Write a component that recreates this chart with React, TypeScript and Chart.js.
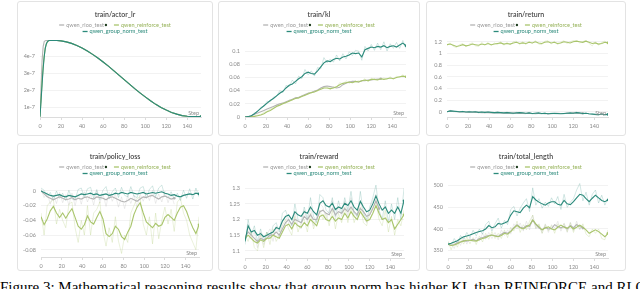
import React, { useEffect, useRef } from 'react';
import { Chart, registerables } from 'chart.js';
Chart.register(...registerables);

// ---------------- data ----------------
const STEPS = [0, 3, 6, 9, 12, 15, 18, 21, 24, 27, 30, 33, 36, 39, 42, 45, 48, 51, 54, 57, 60, 63, 66, 69, 72, 75, 78, 81, 84, 87, 90, 93, 96, 99, 102, 105, 108, 111, 114, 117, 120, 123, 126, 129, 132, 135, 138, 141, 144, 147, 150, 153];
const X_TICKS = [0, 20, 40, 60, 80, 100, 120, 140];

const LR_STEPS = [0, 1, 2, 3, 4, 5, 6, 7, 8, 9, 10, 12, 16, 20, 25, 30, 35, 40, 45, 50, 55, 60, 65, 70, 75, 80, 85, 90, 95, 100, 105, 110, 115, 120, 125, 130, 135, 140, 145, 150, 153];
const LR_GROUP = [0.45, 1.4, 2.4, 3.3, 4.0, 4.5, 4.75, 4.88, 4.94, 4.96, 4.97, 4.97, 4.96, 4.94, 4.88, 4.79, 4.67, 4.52, 4.34, 4.14, 3.92, 3.69, 3.44, 3.18, 2.91, 2.64, 2.38, 2.11, 1.86, 1.62, 1.39, 1.18, 0.99, 0.84, 0.70, 0.60, 0.51, 0.47, 0.45, 0.45, 0.45];
const LR_REINFORCE = [0.45, 1.5, 2.5, 3.4, 4.05, 4.52, 4.76, 4.88, 4.94, 4.96, 4.97, 4.97, 4.96, 4.94, 4.88, 4.79, 4.67, 4.52, 4.34, 4.14, 3.92, 3.69, 3.44, 3.18, 2.91, 2.64, 2.38, 2.11, 1.86, 1.62, 1.39, 1.18, 0.99, 0.84, 0.70, 0.60, 0.51, 0.47, 0.45, 0.45, 0.45];
const LR_RLOO = [0.45, 2.2, 3.8, 4.6, 4.9, 4.95, 4.96, 4.97, 4.97, 4.97, 4.97, 4.97, 4.96, 4.94, 4.88, 4.79, 4.67, 4.52, 4.34, 4.14, 3.92, 3.69, 3.44, 3.18, 2.91, 2.64, 2.38, 2.11, 1.86, 1.62, 1.39, 1.18, 0.99, 0.84, 0.70, 0.60, 0.51, 0.47, 0.45, 0.45, 0.45];
const LR_Y_TICKS = [1, 2, 3, 4];
const LR_Y_LABELS = ['1e-7', '2e-7', '3e-7', '4e-7'];

const KL_GROUP = [0, 0.0005, 0.002, 0.005, 0.009, 0.013, 0.017, 0.021, 0.025, 0.028, 0.032, 0.036, 0.039, 0.044, 0.048, 0.05, 0.054, 0.058, 0.061, 0.066, 0.068, 0.066, 0.065, 0.07, 0.076, 0.082, 0.085, 0.084, 0.087, 0.089, 0.088, 0.091, 0.092, 0.094, 0.097, 0.096, 0.097, 0.091, 0.102, 0.104, 0.106, 0.105, 0.107, 0.106, 0.108, 0.105, 0.107, 0.108, 0.106, 0.109, 0.112, 0.108];
const KL_GROUP_RAW = [0, 0.001, 0.002, 0.006, 0.008, 0.015, 0.016, 0.024, 0.023, 0.03, 0.031, 0.04, 0.037, 0.048, 0.046, 0.056, 0.05, 0.062, 0.058, 0.072, 0.064, 0.07, 0.062, 0.075, 0.073, 0.09, 0.082, 0.088, 0.083, 0.094, 0.085, 0.096, 0.088, 0.099, 0.093, 0.101, 0.1, 0.086, 0.107, 0.1, 0.11, 0.101, 0.112, 0.102, 0.114, 0.1, 0.111, 0.104, 0.113, 0.104, 0.116, 0.104];
const KL_REINFORCE = [0, 0, 0.0005, 0.001, 0.002, 0.003, 0.005, 0.008, 0.01, 0.013, 0.016, 0.018, 0.02, 0.022, 0.024, 0.026, 0.028, 0.029, 0.031, 0.033, 0.035, 0.037, 0.038, 0.04, 0.042, 0.044, 0.044, 0.043, 0.044, 0.046, 0.049, 0.051, 0.052, 0.053, 0.052, 0.054, 0.053, 0.055, 0.056, 0.055, 0.057, 0.057, 0.056, 0.058, 0.057, 0.058, 0.059, 0.058, 0.06, 0.061, 0.062, 0.061];
const KL_REINFORCE_RAW = [0, 0.0005, 0.001, 0.002, 0.003, 0.004, 0.007, 0.009, 0.012, 0.014, 0.018, 0.017, 0.022, 0.021, 0.026, 0.025, 0.03, 0.028, 0.033, 0.032, 0.037, 0.036, 0.04, 0.039, 0.044, 0.045, 0.046, 0.041, 0.046, 0.045, 0.052, 0.05, 0.055, 0.051, 0.054, 0.053, 0.055, 0.054, 0.058, 0.053, 0.059, 0.056, 0.058, 0.057, 0.059, 0.057, 0.061, 0.057, 0.062, 0.06, 0.064, 0.06];
const KL_RLOO = [0, 0.0005, 0.002, 0.004, 0.006, 0.008, 0.01, 0.012, 0.014, 0.016, 0.018, 0.02, 0.021, 0.023, 0.025, 0.027, 0.029, 0.03, 0.032, 0.034, 0.036, 0.037, 0.039, 0.041, 0.044, 0.046, 0.047, 0.046, 0.045, 0.044, 0.045, 0.049, 0.051, 0.053, 0.054, 0.054, 0.053, 0.055, 0.055, 0.056, 0.056, 0.057, 0.057, 0.058];
const KL_Y_TICKS = [0, 0.02, 0.04, 0.06, 0.08, 0.1];
const KL_Y_LABELS = ['0', '0.02', '0.04', '0.06', '0.08', '0.1'];

const RETURN_REINFORCE = [1.15, 1.16, 1.14, 1.12, 1.13, 1.15, 1.13, 1.14, 1.16, 1.15, 1.14, 1.16, 1.15, 1.17, 1.15, 1.16, 1.17, 1.18, 1.16, 1.17, 1.16, 1.18, 1.19, 1.17, 1.18, 1.17, 1.19, 1.18, 1.2, 1.18, 1.17, 1.19, 1.2, 1.18, 1.19, 1.17, 1.18, 1.2, 1.19, 1.18, 1.2, 1.21, 1.2, 1.19, 1.21, 1.19, 1.17, 1.18, 1.16, 1.17, 1.19, 1.18];
const RETURN_REINFORCE_RAW = [1.14, 1.18, 1.12, 1.1, 1.15, 1.17, 1.11, 1.16, 1.18, 1.13, 1.12, 1.19, 1.14, 1.19, 1.13, 1.18, 1.15, 1.2, 1.14, 1.19, 1.15, 1.2, 1.21, 1.15, 1.2, 1.15, 1.21, 1.17, 1.22, 1.16, 1.15, 1.21, 1.22, 1.16, 1.21, 1.15, 1.19, 1.22, 1.17, 1.2, 1.22, 1.23, 1.18, 1.2, 1.23, 1.17, 1.13, 1.2, 1.14, 1.19, 1.21, 1.17];
const RETURN_GROUP = [0.0, 0.015, 0.01, 0.005, 0.0, 0.005, -0.005, 0.0, -0.005, 0.0, -0.01, -0.005, -0.01, -0.005, -0.01, -0.015, -0.01, -0.015, -0.02, -0.015, -0.02, -0.025, -0.02, -0.015, -0.02, -0.025, -0.02, -0.03, -0.025, -0.02, -0.03, -0.025, -0.035, -0.03, -0.025, -0.03, -0.035, -0.03, -0.025, -0.02, -0.025, -0.015, -0.02, -0.03, -0.025, -0.035, -0.04, -0.045, -0.05, -0.04, -0.05, -0.045];
const RETURN_GROUP_RAW = [0.0, 0.025, 0.0, 0.015, -0.01, 0.01, -0.015, 0.01, -0.01, 0.005, -0.02, 0.0, -0.02, 0.005, -0.015, -0.025, 0.0, -0.02, -0.03, -0.005, -0.03, -0.035, -0.01, -0.02, -0.03, -0.035, -0.01, -0.04, -0.02, -0.03, -0.04, -0.015, -0.045, -0.02, -0.035, -0.04, -0.03, -0.04, -0.015, -0.03, -0.02, -0.005, -0.03, -0.04, -0.015, -0.045, -0.035, -0.055, -0.06, -0.03, -0.06, -0.04];
const RETURN_RLOO = [0.0, 0.01, 0.005, 0.0, -0.005, 0.0, -0.005, -0.01, -0.005, -0.01, -0.01, -0.015, -0.01, -0.015, -0.02, -0.015, -0.02, -0.02, -0.025, -0.02, -0.025, -0.02, -0.025, -0.03, -0.025, -0.03, -0.025, -0.03, -0.035, -0.03, -0.03, -0.035, -0.03, -0.035, -0.03, -0.025, -0.03, -0.03, -0.025, -0.03, -0.02, -0.025, -0.03, -0.025];
const RETURN_Y_TICKS = [0, 0.2, 0.4, 0.6, 0.8, 1, 1.2];
const RETURN_Y_LABELS = ['0', '0.2', '0.4', '0.6', '0.8', '1', '1.2'];

const POLICY_GROUP = [0.0, -0.002, -0.004, -0.006, -0.007, -0.006, -0.005, -0.007, -0.008, -0.006, -0.007, -0.008, -0.006, -0.004, -0.005, -0.004, -0.003, -0.005, -0.004, -0.006, -0.005, -0.004, -0.006, -0.005, -0.003, -0.004, -0.002, -0.003, -0.004, -0.002, -0.003, -0.004, -0.003, -0.002, -0.004, -0.003, -0.002, -0.003, -0.002, -0.001, -0.003, -0.004, -0.006, -0.005, -0.007, -0.008, -0.006, -0.005, -0.004, -0.005, -0.003, -0.004];
const POLICY_GROUP_RAW = [0.004, 0.001, -0.008, -0.002, -0.012, 0.0, -0.01, -0.003, -0.013, 0.001, -0.011, -0.012, 0.002, 0.004, -0.009, 0.003, 0.005, -0.01, 0.002, -0.012, 0.001, 0.006, -0.011, -0.001, 0.004, -0.009, 0.005, -0.006, -0.008, 0.006, -0.007, -0.009, 0.004, 0.006, -0.01, 0.002, 0.007, -0.008, 0.004, 0.008, -0.007, -0.009, -0.001, -0.011, -0.003, -0.013, 0.001, -0.01, 0.003, -0.011, 0.004, -0.008];
const POLICY_RLOO = [0.0, -0.004, -0.008, -0.01, -0.012, -0.01, -0.008, -0.01, -0.012, -0.011, -0.009, -0.012, -0.01, -0.011, -0.009, -0.008, -0.01, -0.011, -0.008, -0.009, -0.01, -0.012, -0.009, -0.008, -0.01, -0.012, -0.014, -0.015, -0.013, -0.01, -0.012, -0.014, -0.011, -0.008, -0.009, -0.007, -0.006, -0.009, -0.011, -0.008, -0.007, -0.009, -0.011, -0.01];
const POLICY_RLOO_RAW = [0.003, -0.009, -0.002, -0.018, -0.006, -0.017, -0.002, -0.016, -0.005, -0.019, -0.003, -0.02, -0.004, -0.018, -0.001, -0.015, -0.004, -0.019, 0.0, -0.016, -0.004, -0.021, -0.002, -0.014, -0.004, -0.022, -0.008, -0.024, -0.006, -0.017, -0.005, -0.023, -0.004, -0.014, -0.002, -0.013, 0.001, -0.017, -0.004, -0.015, 0.0, -0.016, -0.004, -0.018];
const POLICY_REINFORCE = [-0.035, -0.046, -0.038, -0.027, -0.021, -0.03, -0.036, -0.03, -0.037, -0.03, -0.024, -0.036, -0.048, -0.052, -0.046, -0.034, -0.042, -0.045, -0.036, -0.028, -0.038, -0.058, -0.062, -0.058, -0.048, -0.052, -0.062, -0.066, -0.056, -0.048, -0.032, -0.022, -0.016, -0.03, -0.042, -0.046, -0.05, -0.044, -0.048, -0.046, -0.036, -0.032, -0.036, -0.04, -0.03, -0.022, -0.02, -0.028, -0.04, -0.05, -0.058, -0.046];
const POLICY_REINFORCE_RAW = [-0.03, -0.06, -0.02, -0.015, -0.012, -0.045, -0.025, -0.04, -0.05, -0.018, -0.015, -0.05, -0.07, -0.04, -0.06, -0.02, -0.06, -0.03, -0.025, -0.015, -0.055, -0.075, -0.05, -0.07, -0.035, -0.068, -0.085, -0.06, -0.07, -0.03, -0.02, -0.01, -0.008, -0.045, -0.06, -0.035, -0.072, -0.03, -0.065, -0.04, -0.022, -0.045, -0.025, -0.055, -0.015, -0.01, -0.03, -0.04, -0.06, -0.07, -0.08, -0.035];
const POLICY_Y_TICKS = [-0.08, -0.06, -0.04, -0.02, 0];
const POLICY_Y_LABELS = ['-0.08', '-0.06', '-0.04', '-0.02', '0'];

const REWARD_GROUP = [1.13, 1.18, 1.16, 1.165, 1.15, 1.155, 1.145, 1.15, 1.155, 1.16, 1.175, 1.17, 1.195, 1.21, 1.215, 1.2, 1.225, 1.215, 1.21, 1.225, 1.22, 1.24, 1.225, 1.215, 1.252, 1.26, 1.245, 1.24, 1.252, 1.232, 1.24, 1.235, 1.252, 1.245, 1.26, 1.24, 1.23, 1.258, 1.24, 1.225, 1.23, 1.25, 1.275, 1.25, 1.23, 1.24, 1.22, 1.23, 1.22, 1.24, 1.22, 1.26];
const REWARD_GROUP_RAW = [1.12, 1.2, 1.15, 1.18, 1.13, 1.17, 1.13, 1.16, 1.14, 1.18, 1.19, 1.16, 1.22, 1.23, 1.2, 1.18, 1.25, 1.2, 1.19, 1.24, 1.2, 1.27, 1.21, 1.19, 1.28, 1.27, 1.23, 1.22, 1.27, 1.21, 1.26, 1.22, 1.27, 1.23, 1.29, 1.22, 1.21, 1.29, 1.22, 1.2, 1.24, 1.27, 1.31, 1.23, 1.2, 1.26, 1.19, 1.25, 1.2, 1.27, 1.2, 1.3];
const REWARD_RLOO = [1.14, 1.16, 1.15, 1.14, 1.13, 1.14, 1.135, 1.14, 1.15, 1.15, 1.16, 1.15, 1.17, 1.19, 1.2, 1.185, 1.2, 1.195, 1.19, 1.21, 1.2, 1.215, 1.2, 1.2, 1.225, 1.23, 1.22, 1.215, 1.235, 1.215, 1.225, 1.22, 1.235, 1.225, 1.24, 1.225, 1.215, 1.235, 1.225, 1.21, 1.215, 1.235, 1.26, 1.235];
const REWARD_RLOO_RAW = [1.13, 1.18, 1.14, 1.16, 1.11, 1.16, 1.12, 1.15, 1.17, 1.13, 1.18, 1.14, 1.19, 1.21, 1.19, 1.17, 1.22, 1.18, 1.17, 1.23, 1.19, 1.24, 1.18, 1.21, 1.25, 1.24, 1.2, 1.23, 1.26, 1.2, 1.24, 1.21, 1.26, 1.21, 1.27, 1.21, 1.2, 1.26, 1.21, 1.19, 1.23, 1.26, 1.28, 1.22];
const REWARD_REINFORCE = [1.14, 1.15, 1.14, 1.13, 1.125, 1.135, 1.13, 1.14, 1.14, 1.15, 1.145, 1.14, 1.16, 1.18, 1.185, 1.17, 1.19, 1.18, 1.175, 1.19, 1.18, 1.2, 1.19, 1.18, 1.21, 1.215, 1.2, 1.195, 1.21, 1.195, 1.205, 1.2, 1.22, 1.205, 1.225, 1.21, 1.2, 1.225, 1.21, 1.195, 1.2, 1.22, 1.245, 1.22, 1.2, 1.205, 1.19, 1.2, 1.17, 1.185, 1.2, 1.215];
const REWARD_REINFORCE_RAW = [1.15, 1.13, 1.16, 1.11, 1.1, 1.15, 1.11, 1.16, 1.12, 1.17, 1.13, 1.15, 1.18, 1.2, 1.17, 1.15, 1.21, 1.16, 1.19, 1.2, 1.16, 1.22, 1.17, 1.2, 1.23, 1.2, 1.22, 1.18, 1.23, 1.17, 1.22, 1.19, 1.24, 1.19, 1.24, 1.19, 1.22, 1.24, 1.19, 1.18, 1.22, 1.24, 1.26, 1.2, 1.18, 1.23, 1.16, 1.21, 1.15, 1.2, 1.18, 1.23];
const REWARD_Y_TICKS = [1.1, 1.15, 1.2, 1.25, 1.3];
const REWARD_Y_LABELS = ['1.1', '1.15', '1.2', '1.25', '1.3'];

const LENGTH_GROUP = [365, 367, 370, 373, 378, 382, 384, 386, 389, 392, 394, 396, 400, 408, 403, 405, 413, 411, 414, 417, 432, 442, 440, 438, 448, 455, 449, 475, 467, 462, 458, 455, 460, 463, 463, 457, 455, 466, 458, 456, 463, 472, 480, 478, 470, 463, 471, 478, 472, 466, 463, 467];
const LENGTH_GROUP_RAW = [368, 362, 378, 366, 385, 376, 392, 380, 397, 384, 400, 388, 410, 418, 395, 412, 425, 402, 420, 410, 445, 452, 430, 448, 460, 470, 440, 495, 455, 470, 448, 462, 452, 472, 458, 475, 445, 480, 450, 462, 470, 490, 505, 465, 485, 455, 480, 490, 460, 478, 455, 472];
const LENGTH_RLOO = [365, 362, 364, 368, 370, 373, 372, 374, 376, 373, 378, 380, 383, 385, 386, 384, 383, 388, 392, 390, 395, 403, 410, 404, 402, 408, 406, 420, 410, 402, 398, 404, 400, 401, 410, 405, 403, 406, 400, 408, 403, 410, 406, 402];
const LENGTH_RLOO_RAW = [360, 368, 355, 375, 362, 382, 365, 380, 370, 382, 372, 390, 376, 392, 378, 392, 375, 398, 385, 398, 388, 412, 400, 414, 395, 418, 398, 432, 400, 410, 390, 412, 392, 410, 402, 418, 395, 414, 392, 416, 396, 418, 398, 410];
const LENGTH_REINFORCE = [365, 362, 363, 366, 370, 372, 374, 374, 373, 372, 375, 378, 380, 384, 386, 384, 382, 385, 390, 388, 394, 402, 408, 403, 400, 405, 409, 421, 412, 405, 398, 402, 405, 400, 398, 404, 409, 404, 402, 406, 400, 404, 409, 404, 398, 390, 394, 398, 394, 388, 382, 390];
const LENGTH_REINFORCE_RAW = [372, 352, 370, 358, 378, 365, 382, 366, 380, 364, 384, 370, 390, 376, 394, 378, 390, 378, 398, 380, 404, 395, 418, 392, 410, 398, 418, 432, 402, 412, 390, 410, 396, 408, 390, 412, 400, 412, 394, 414, 392, 412, 400, 412, 388, 382, 400, 390, 400, 378, 375, 398];
const LENGTH_Y_TICKS = [350, 400, 450, 500];
const LENGTH_Y_LABELS = ['350', '400', '450', '500'];

const RUN_NAMES = ['qwen_rloo_test', 'qwen_reinforce_test', 'qwen_group_norm_test'];
const CAPTION = 'Figure 3: Mathematical reasoning results show that group norm has higher KL than REINFORCE and RLOO.';

// ---------------- styles / layout ----------------
const FONT = "Lato, 'Noto Sans', sans-serif";
const COLORS = { rloo: '#b4b4b4', reinforce: '#a9c56c', group: '#2b8a7b' };
const RAW_COLORS = { rloo: 'rgba(180,180,180,0.35)', reinforce: 'rgba(169,197,108,0.35)', group: 'rgba(43,138,123,0.3)' };
const TEXT_COLORS = { rloo: '#9a9a9a', reinforce: '#97b35a', group: '#2b8a7b' };

type Series = { rloo: number[]; reinforce: number[]; group: number[] };
type Panel = {
  title: string; xs: number[]; s: Series; raw: Partial<Series>;
  yMin: number; yMax: number; yTicks: number[]; yLabels: string[];
  card: [number, number, number, number]; area: [number, number, number, number];
};

const PANELS: Panel[] = [
  { title: 'train/actor_lr', xs: LR_STEPS, s: { rloo: LR_RLOO, reinforce: LR_REINFORCE, group: LR_GROUP }, raw: {},
    yMin: 0.43, yMax: 4.99, yTicks: LR_Y_TICKS, yLabels: LR_Y_LABELS, card: [17, 1, 196, 135], area: [40, 40, 201, 117] },
  { title: 'train/kl', xs: STEPS, s: { rloo: KL_RLOO, reinforce: KL_REINFORCE, group: KL_GROUP }, raw: { reinforce: KL_REINFORCE_RAW, group: KL_GROUP_RAW },
    yMin: 0, yMax: 0.1167, yTicks: KL_Y_TICKS, yLabels: KL_Y_LABELS, card: [218, 1, 202, 135], area: [245, 40, 406, 117] },
  { title: 'train/return', xs: STEPS, s: { rloo: RETURN_RLOO, reinforce: RETURN_REINFORCE, group: RETURN_GROUP }, raw: { reinforce: RETURN_REINFORCE_RAW, group: RETURN_GROUP_RAW },
    yMin: -0.09, yMax: 1.23, yTicks: RETURN_Y_TICKS, yLabels: RETURN_Y_LABELS, card: [426, 1, 200, 135], area: [447, 40, 608, 117] },
  { title: 'train/policy_loss', xs: STEPS, s: { rloo: POLICY_RLOO, reinforce: POLICY_REINFORCE, group: POLICY_GROUP }, raw: { rloo: POLICY_RLOO_RAW, reinforce: POLICY_REINFORCE_RAW, group: POLICY_GROUP_RAW },
    yMin: -0.0898, yMax: 0.0122, yTicks: POLICY_Y_TICKS, yLabels: POLICY_Y_LABELS, card: [17, 143, 196, 128], area: [41, 182, 199, 257] },
  { title: 'train/reward', xs: STEPS, s: { rloo: REWARD_RLOO, reinforce: REWARD_REINFORCE, group: REWARD_GROUP }, raw: { rloo: REWARD_RLOO_RAW, reinforce: REWARD_REINFORCE_RAW, group: REWARD_GROUP_RAW },
    yMin: 1.077, yMax: 1.32, yTicks: REWARD_Y_TICKS, yLabels: REWARD_Y_LABELS, card: [218, 143, 202, 128], area: [245, 182, 404, 258] },
  { title: 'train/total_length', xs: STEPS, s: { rloo: LENGTH_RLOO, reinforce: LENGTH_REINFORCE, group: LENGTH_GROUP }, raw: { rloo: LENGTH_RLOO_RAW, reinforce: LENGTH_REINFORCE_RAW, group: LENGTH_GROUP_RAW },
    yMin: 333, yMax: 508.5, yTicks: LENGTH_Y_TICKS, yLabels: LENGTH_Y_LABELS, card: [426, 143, 200, 128], area: [448, 182, 608, 258] },
];

function headerPlugin(title: string) {
  return {
    id: 'panelHeader',
    afterDraw(chart: any) {
      const { ctx, chartArea, width } = chart;
      const cx = width / 2;
      ctx.save();
      ctx.textBaseline = 'middle';
      ctx.textAlign = 'center';
      ctx.fillStyle = '#484848';
      ctx.font = `600 7px ${FONT}`;
      ctx.fillText(title, cx, chartArea.top - 25);
      ctx.font = `5.6px ${FONT}`;
      const rows = [[{ k: 'rloo', n: RUN_NAMES[0], dot: true }, { k: 'reinforce', n: RUN_NAMES[1], dot: false }], [{ k: 'group', n: RUN_NAMES[2], dot: false }]];
      rows.forEach((row, r) => {
        const y = chartArea.top - 15 + r * 6.5;
        const items = row.map((it) => ({ ...it, w: 7 + ctx.measureText(it.n).width + (it.dot ? 4 : 0) }));
        const total = items.reduce((a, b) => a + b.w, 0) + 6 * (items.length - 1);
        let x = cx - total / 2;
        items.forEach((it) => {
          const k = it.k as keyof typeof COLORS;
          ctx.strokeStyle = COLORS[k];
          ctx.lineWidth = 1.3;
          ctx.beginPath();
          ctx.moveTo(x, y);
          ctx.lineTo(x + 5, y);
          ctx.stroke();
          ctx.fillStyle = TEXT_COLORS[k];
          ctx.textAlign = 'left';
          const tw = ctx.measureText(it.n).width;
          ctx.fillText(it.n, x + 7, y);
          if (it.dot) {
            ctx.fillStyle = '#1f3d1f';
            ctx.beginPath();
            ctx.arc(x + 7 + tw + 2, y, 1.2, 0, Math.PI * 2);
            ctx.fill();
          }
          x += it.w + 6;
        });
      });
      ctx.font = `5.5px ${FONT}`;
      ctx.fillStyle = '#8a8a8a';
      ctx.textAlign = 'right';
      ctx.fillText('Step', chartArea.right - 2, chartArea.bottom - 4);
      ctx.restore();
    },
  };
}

function PanelChart({ p }: { p: Panel }) {
  const ref = useRef<HTMLCanvasElement>(null);
  useEffect(() => {
    if (!ref.current) return;
    const [cx, cy, cw, ch] = p.card;
    const [al, at, ar, ab] = p.area;
    const pts = (vals: number[]) => vals.map((v, i) => ({ x: p.xs[i], y: v }));
    const keys: (keyof Series)[] = ['group', 'reinforce', 'rloo'];
    const datasets: any[] = [];
    keys.forEach((k, i) => {
      const vals = p.s[k];
      datasets.push({
        data: pts(vals), borderColor: COLORS[k], borderWidth: 1.1, order: i,
        pointRadius: (c: any) => (c.dataIndex === vals.length - 1 ? 1.3 : 0),
        pointBackgroundColor: COLORS[k], pointBorderWidth: 0, tension: 0,
      });
    });
    keys.forEach((k, i) => {
      const vals = p.raw[k];
      if (!vals) return;
      datasets.push({ data: pts(vals), borderColor: RAW_COLORS[k], borderWidth: 0.7, order: 10 + i, pointRadius: 0, tension: 0 });
    });
    const yW = al - cx;
    const xH = cy + ch - ab;
    const chart = new Chart(ref.current, {
      type: 'line',
      data: { datasets },
      options: {
        animation: false, responsive: false, devicePixelRatio: 1,
        layout: { padding: { left: 0, top: at - cy, right: cx + cw - ar, bottom: 0 } },
        plugins: { legend: { display: false }, title: { display: false }, tooltip: { enabled: false } },
        scales: {
          x: {
            type: 'linear', min: 0, max: 153,
            afterFit: (s: any) => { s.height = xH; },
            afterBuildTicks: (s: any) => { s.ticks = X_TICKS.map((v) => ({ value: v })); },
            ticks: { font: { size: 5.5, family: FONT }, color: '#8a8a8a', padding: 3, maxRotation: 0, autoSkip: false },
            grid: { display: true, drawOnChartArea: false, drawTicks: true, tickLength: 3, color: '#dcdcdc' },
            border: { display: true, color: '#dcdcdc' },
          },
          y: {
            type: 'linear', min: p.yMin, max: p.yMax,
            afterFit: (s: any) => { s.width = yW; },
            afterBuildTicks: (s: any) => { s.ticks = p.yTicks.map((v) => ({ value: v })); },
            ticks: { font: { size: 5.5, family: FONT }, color: '#8a8a8a', padding: 5, autoSkip: false, callback: (_v: any, i: number) => p.yLabels[i] },
            grid: { color: '#efefef', drawTicks: false, lineWidth: 0.8 },
            border: { display: false },
          },
        },
      } as any,
      plugins: [headerPlugin(p.title)],
    });
    return () => chart.destroy();
  }, [p]);
  const [cx, cy, cw, ch] = p.card;
  return (
    <>
      <div style={{ position: 'absolute', left: cx, top: cy, width: cw - 2, height: ch - 2, border: '1px solid #e3e3e3', borderRadius: 3, background: '#fff' }} />
      <canvas ref={ref} width={cw} height={ch} style={{ position: 'absolute', left: cx, top: cy, width: cw, height: ch }} />
    </>
  );
}

export default function App() {
  return (
    <div style={{ position: 'fixed', left: 0, top: 0, width: 640, height: 289, overflow: 'hidden', background: '#fff' }}>
      {PANELS.map((p, i) => <PanelChart key={i} p={p} />)}
      <div style={{ position: 'absolute', left: 0, top: 280.4, fontFamily: "'Liberation Serif', 'Times New Roman', serif", fontSize: 15, lineHeight: '15px', whiteSpace: 'nowrap', color: '#000' }}>{CAPTION}</div>
    </div>
  );
}
